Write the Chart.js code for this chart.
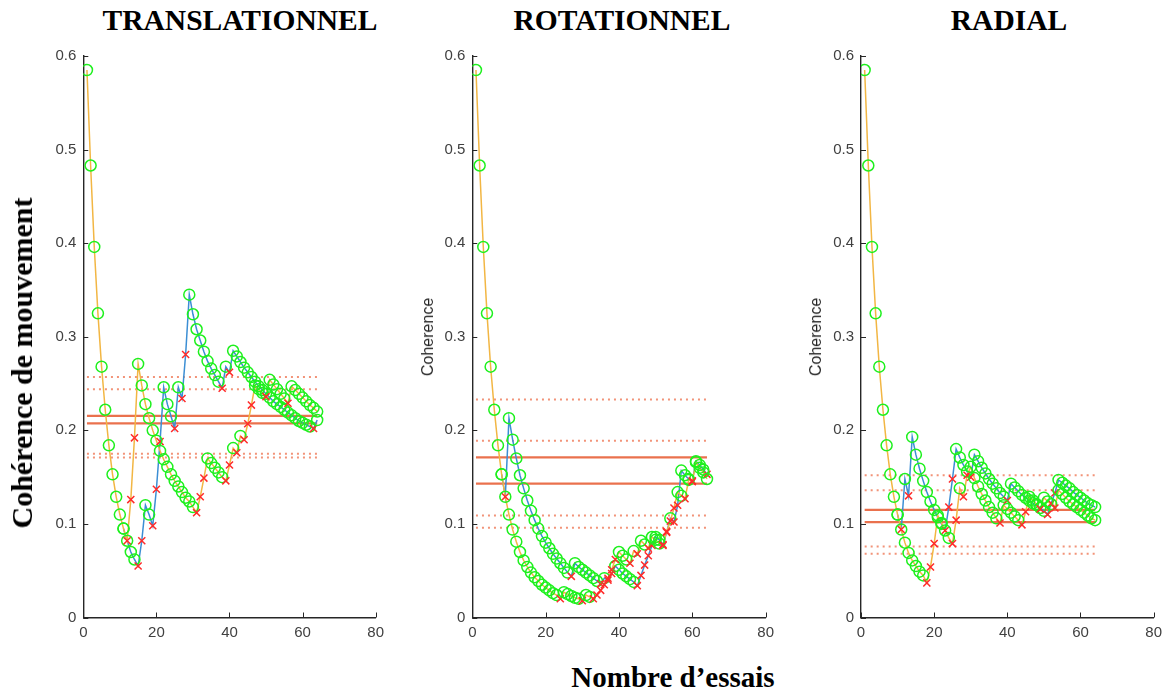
<!DOCTYPE html>
<html>
<head>
<meta charset="utf-8">
<script src="https://cdn.jsdelivr.net/npm/chart.js@4.4.0/dist/chart.umd.min.js"></script>
<style>
    body { margin: 0; background: #fff; }
    #wrap { position: relative; width: 1170px; height: 690px; overflow: hidden; background: #fff; }
    canvas { position: absolute; top: 40px; }
    .title, .big { position: absolute; font-family: "Liberation Serif", "Times New Roman", serif; font-weight: bold; color: #000; white-space: nowrap; line-height: 1; }
    .title { font-size: 29.5px; top: 6px; transform: translateX(-50%); }
    .small { position: absolute; font-family: "Liberation Sans", Arial, sans-serif; font-size: 16px; color: #262626; white-space: nowrap; line-height: 1; transform: translate(-50%, -50%) rotate(-90deg); }
</style>
</head>
<body>
<div id="wrap">
    <canvas id="chart1" width="360" height="610" style="left:30px"></canvas>
    <canvas id="chart2" width="360" height="610" style="left:420px"></canvas>
    <canvas id="chart3" width="360" height="610" style="left:808px"></canvas>

    <div class="title" style="left:240px">TRANSLATIONNEL</div>
    <div class="title" style="left:622px">ROTATIONNEL</div>
    <div class="title" style="left:1009px">RADIAL</div>

    <div class="big" style="font-size:30px; left:22px; top:363px; transform: translate(-50%, -50%) rotate(-90deg);">Cohérence de mouvement</div>
    <div class="big" style="font-size:29px; left:673px; top:663px; transform: translateX(-50%);">Nombre d’essais</div>

    <div class="small" style="left:428px; top:337px">Coherence</div>
    <div class="small" style="left:816px; top:337px">Coherence</div>
</div>

<script>
// ---------- 数据 : 两条交错的阶梯 (橙色 / 蓝色)，按试次 1..64 ----------
// TRANSLATIONNEL
const p1Orange = [
    .585, .483, .396, .325, .268, .222, .184, .153, .129, .110,
    .095, .082, .126, .192, .271, .248, .228, .213, .200, .189,
    .178, .169, .161, .153, .146, .140, .134, .128, .124, .118,
    .112, .129, .149, .170, .165, .160, .155, .150, .146, .163,
    .181, .176, .194, .190, .207, .227, .248, .244, .240, .236,
    .254, .249, .244, .239, .234, .229, .247, .243, .239, .235,
    .231, .227, .224, .220
];
const p1OrangeMiss = [12, 13, 14, 31, 32, 33, 39, 40, 42, 44, 45, 46, 50, 56];
const p1Blue = [
    null, null, null, null, null, null, null, null, null, null,
    .095, .082, .070, .062, .055, .082, .120, .110, .098, .137,
    .188, .246, .228, .215, .202, .246, .234, .281, .345, .324,
    .308, .296, .284, .274, .266, .259, .252, .245, .268, .262,
    .285, .279, .273, .267, .262, .257, .252, .247, .243, .239,
    .235, .231, .228, .225, .222, .219, .216, .213, .210, .208,
    .206, .204, .202, .211
];
const p1BlueMiss = [15, 16, 19, 20, 21, 25, 27, 28, 38, 40, 63];
const p1Solid = [0.2155, 0.2075];
const p1Dotted = [0.257, 0.244, 0.175, 0.171];

// ROTATIONNEL
const p2Orange = [
    .585, .483, .396, .325, .268, .222, .184, .153, .129, .110,
    .094, .081, .070, .061, .054, .048, .043, .039, .035, .032,
    .029, .026, .024, .020, .027, .025, .023, .021, .020, .018,
    .024, .022, .020, .024, .029, .035, .042, .051, .062, .070,
    .066, .062, .058, .071, .068, .082, .078, .074, .086, .083,
    .079, .077, .092, .103, .117, .134, .130, .127, .147, .145,
    .166, .160, .155, .148
];
const p2OrangeMiss = [24, 30, 33, 34, 35, 36, 37, 38, 39, 43, 45, 48, 52, 53, 54, 55, 58, 60];
const p2Blue = [
    null, null, null, null, null, null, null, .153, .129, .213,
    .190, .170, .152, .138, .125, .114, .104, .095, .087, .080,
    .074, .068, .063, .058, .053, .048, .044, .058, .054, .051,
    .048, .045, .042, .039, .036, .042, .040, .047, .055, .051,
    .047, .044, .041, .038, .034, .045, .056, .066, .077, .086,
    .083, .078, .091, .106, .102, .120, .157, .152, .148, .146,
    .167, .163, .158, .153
];
const p2BlueMiss = [9, 27, 35, 37, 38, 45, 46, 47, 48, 49, 52, 53, 55, 56, 60, 64];
const p2Solid = [0.171, 0.143];
const p2Dotted = [0.233, 0.189, 0.109, 0.096];

// RADIAL
const p3Orange = [
    .585, .483, .396, .325, .268, .222, .184, .153, .129, .110,
    .094, .080, .069, .061, .055, .049, .045, .037, .054, .079,
    .109, .101, .093, .085, .079, .104, .138, .129, .152, .161,
    .149, .140, .132, .125, .118, .112, .106, .101, .120, .116,
    .112, .108, .104, .099, .113, .129, .125, .121, .116, .128,
    .124, .121, .117, .136, .132, .128, .124, .121, .118, .115,
    .112, .109, .106, .104
];
const p3OrangeMiss = [18, 19, 20, 25, 26, 28, 29, 38, 44, 45, 49, 53];
const p3Blue = [
    null, null, null, null, null, null, null, null, null, .110,
    .094, .148, .130, .193, .174, .159, .146, .134, .124, .115,
    .107, .100, .093, .118, .148, .180, .171, .163, .156, .150,
    .174, .167, .160, .154, .148, .143, .138, .133, .129, .125,
    .143, .139, .135, .131, .128, .125, .122, .120, .117, .114,
    .110, .122, .133, .147, .144, .141, .138, .134, .131, .128,
    .125, .122, .120, .118
];
const p3BlueMiss = [11, 13, 23, 24, 25, 30, 40, 51, 52, 53];
const p3Solid = [0.115, 0.102];
const p3Dotted = [0.152, 0.136, 0.076, 0.068];

// 刻度
const xTicks = [0, 20, 40, 60, 80];
const yTicks = [0, 0.1, 0.2, 0.3, 0.4, 0.5, 0.6];
const firstTrial = 1;
const lastTrial = 64;

// ---------- 样式 ----------
const ORANGE = '#f2b643';
const BLUE = '#3b8ed4';
const GREEN = '#1ef01e';
const RED = '#ff2b2b';
const REF = 'rgba(232, 98, 58, 0.9)';
const REF_DOT = 'rgba(240, 128, 96, 0.85)';
const AXIS = '#262626';

// 把数组转成 {x, y}
function toXY(arr) {
    return arr.map((v, i) => ({ x: i + 1, y: v }));
}

// 向内的刻度线 (MATLAB 风格)
const innerTicks = {
    id: 'innerTicks',
    afterDraw(chart) {
        const { ctx, chartArea, scales } = chart;
        ctx.save();
        ctx.strokeStyle = AXIS;
        ctx.lineWidth = 1;
        ctx.beginPath();
        xTicks.forEach(t => {
            const px = Math.round(scales.x.getPixelForValue(t)) + 0.5;
            ctx.moveTo(px, chartArea.bottom);
            ctx.lineTo(px, chartArea.bottom - 5);
        });
        yTicks.forEach(t => {
            const py = Math.round(scales.y.getPixelForValue(t)) + 0.5;
            ctx.moveTo(chartArea.left, py);
            ctx.lineTo(chartArea.left + 5, py);
        });
        ctx.stroke();
        ctx.restore();
    }
};

// 绿圈 = 正确, 红叉 = 错误
function markerSet(values, miss) {
    return {
        data: toXY(values),
        showLine: false,
        pointStyle: c => miss.includes(c.raw.x) ? 'crossRot' : 'circle',
        pointRadius: c => miss.includes(c.raw.x) ? 5 : 5.5,
        pointBorderColor: c => miss.includes(c.raw.x) ? RED : GREEN,
        pointBackgroundColor: 'rgba(0,0,0,0)',
        pointBorderWidth: 1.5,
    };
}

function lineSet(values, color) {
    return {
        data: toXY(values),
        borderColor: color,
        borderWidth: 1.5,
        pointRadius: 0,
        spanGaps: false,
    };
}

function refSet(v, dotted) {
    return {
        data: [{ x: firstTrial, y: v }, { x: lastTrial, y: v }],
        borderColor: dotted ? REF_DOT : REF,
        borderWidth: dotted ? 2 : 2.2,
        borderDash: dotted ? [2, 4] : [],
        pointRadius: 0,
    };
}

function initPanel(id, yAxisWidth, padRight, orange, orangeMiss, blue, blueMiss, solid, dotted) {
    const ctx = document.getElementById(id).getContext('2d');
    const datasets = [
        markerSet(orange, orangeMiss),
        markerSet(blue, blueMiss),
        lineSet(orange, ORANGE),
        lineSet(blue, BLUE),
        ...solid.map(v => refSet(v, false)),
        ...dotted.map(v => refSet(v, true)),
    ];

    new Chart(ctx, {
        type: 'line',
        data: { datasets },
        plugins: [innerTicks],
        options: {
            responsive: false,
            animation: false,
            devicePixelRatio: 1,
            events: [],
            layout: { padding: { left: 0, right: padRight, top: 15, bottom: 0 } },
            plugins: { legend: { display: false }, tooltip: { enabled: false } },
            scales: {
                x: {
                    type: 'linear',
                    min: 0,
                    max: 80,
                    afterBuildTicks: s => { s.ticks = xTicks.map(v => ({ value: v })); },
                    ticks: {
                        color: '#404040',
                        font: { family: '"Liberation Sans", Arial, sans-serif', size: 15 },
                        padding: 6,
                        maxRotation: 0,
                    },
                    grid: { display: false, drawTicks: false },
                    border: { display: true, color: AXIS, width: 1.4 },
                    afterFit: s => { s.height = 32.5; }
                },
                y: {
                    min: 0,
                    max: 0.6,
                    afterBuildTicks: s => { s.ticks = yTicks.map(v => ({ value: v })); },
                    ticks: {
                        color: '#404040',
                        font: { family: '"Liberation Sans", Arial, sans-serif', size: 15 },
                        padding: 7,
                        callback: v => v === 0 ? '0' : v.toFixed(1),
                    },
                    grid: { display: false, drawTicks: false },
                    border: { display: true, color: AXIS, width: 1.4 },
                    afterFit: s => { s.width = yAxisWidth; }
                }
            }
        }
    });
}

initPanel('chart1', 53.3, 13.3, p1Orange, p1OrangeMiss, p1Blue, p1BlueMiss, p1Solid, p1Dotted);
initPanel('chart2', 52.3, 14, p2Orange, p2OrangeMiss, p2Blue, p2BlueMiss, p2Solid, p2Dotted);
initPanel('chart3', 53, 13.7, p3Orange, p3OrangeMiss, p3Blue, p3BlueMiss, p3Solid, p3Dotted);
</script>
</body>
</html>
